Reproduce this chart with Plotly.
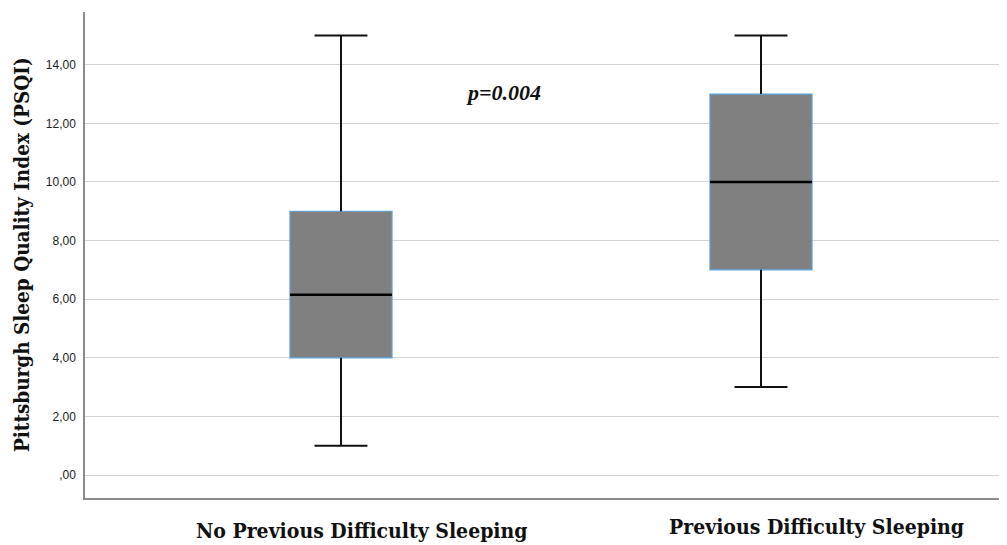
import plotly.graph_objects as go

categories = ["No Previous Difficulty Sleeping", "Previous Difficulty Sleeping"]
positions = [0, 1]
q1 = [4.0, 7.0]
median = [6.15, 10.0]
q3 = [9.0, 13.0]
lower_whisker = [1.0, 3.0]
upper_whisker = [15.0, 15.0]
tick_vals = [0, 2, 4, 6, 8, 10, 12, 14]
tick_text = [",00", "2,00", "4,00", "6,00", "8,00", "10,00", "12,00", "14,00"]
p_label = "p=0.004"

BOX_W = 0.243
CAP_HALF = 0.063
SERIF = "DejaVu Serif Condensed, DejaVu Serif, serif"

fig = go.Figure()

fig.add_trace(go.Box(
    x=positions, q1=q1, median=median, q3=q3,
    lowerfence=q1, upperfence=q3,
    width=BOX_W, whiskerwidth=0,
    fillcolor="#808080", line=dict(color="#5ba3dc", width=1.2),
    boxpoints=False, showlegend=False, hoverinfo="skip",
))

# whiskers and caps
wx, wy = [], []
for p, a, b, lo, hi in zip(positions, q1, q3, lower_whisker, upper_whisker):
    wx += [p, p, None, p, p, None, p - CAP_HALF, p + CAP_HALF, None, p - CAP_HALF, p + CAP_HALF, None]
    wy += [b, hi, None, lo, a, None, hi, hi, None, lo, lo, None]
fig.add_trace(go.Scatter(x=wx, y=wy, mode="lines", line=dict(color="#111111", width=2),
                         showlegend=False, hoverinfo="skip"))

mx, my = [], []
for p, m in zip(positions, median):
    mx += [p - BOX_W / 2, p + BOX_W / 2, None]
    my += [m, m, None]
fig.add_trace(go.Scatter(x=mx, y=my, mode="lines", line=dict(color="#000000", width=2.6),
                         showlegend=False, hoverinfo="skip"))

annotations = [
    dict(x=0.05, y=-0.066, xref="x", yref="paper", yanchor="middle", text="<b>" + categories[0] + "</b>",
         showarrow=False, font=dict(family=SERIF, size=21, color="#111111")),
    dict(x=1.133, y=-0.058, xref="x", yref="paper", yanchor="middle", text="<b>" + categories[1] + "</b>",
         showarrow=False, font=dict(family=SERIF, size=21, color="#111111")),
    dict(x=0.386, y=13.05, xref="x", yref="y", text="<b><i>" + p_label + "</i></b>",
         showarrow=False, font=dict(family="Liberation Serif", size=22, color="#111111")),
    dict(x=-0.0835, y=0.5, xref="paper", yref="paper", textangle=-90,
         text="<b>Pittsburgh Sleep Quality Index (PSQI)</b>",
         showarrow=False, font=dict(family=SERIF, size=20.5, color="#111111")),
]

fig.update_layout(
    width=999, height=537,
    margin=dict(l=77, r=0, t=4, b=47),
    paper_bgcolor="white", plot_bgcolor="white",
    annotations=annotations,
    xaxis=dict(range=[-0.6095, 1.5857], showticklabels=False, showgrid=False, zeroline=False,
               showline=True, linecolor="#8c8c8c", linewidth=1.5, ticks=""),
    yaxis=dict(range=[-0.785, 15.8], tickvals=tick_vals, ticktext=tick_text,
               showgrid=True, gridcolor="#d3d3d3", gridwidth=1, zeroline=False,
               showline=True, linecolor="#8c8c8c", linewidth=1.5,
               ticks="outside", ticklen=5, tickcolor="rgba(0,0,0,0)",
               tickfont=dict(family="Liberation Sans", size=12, color="#222222")),
)

fig.write_html("out.html")
